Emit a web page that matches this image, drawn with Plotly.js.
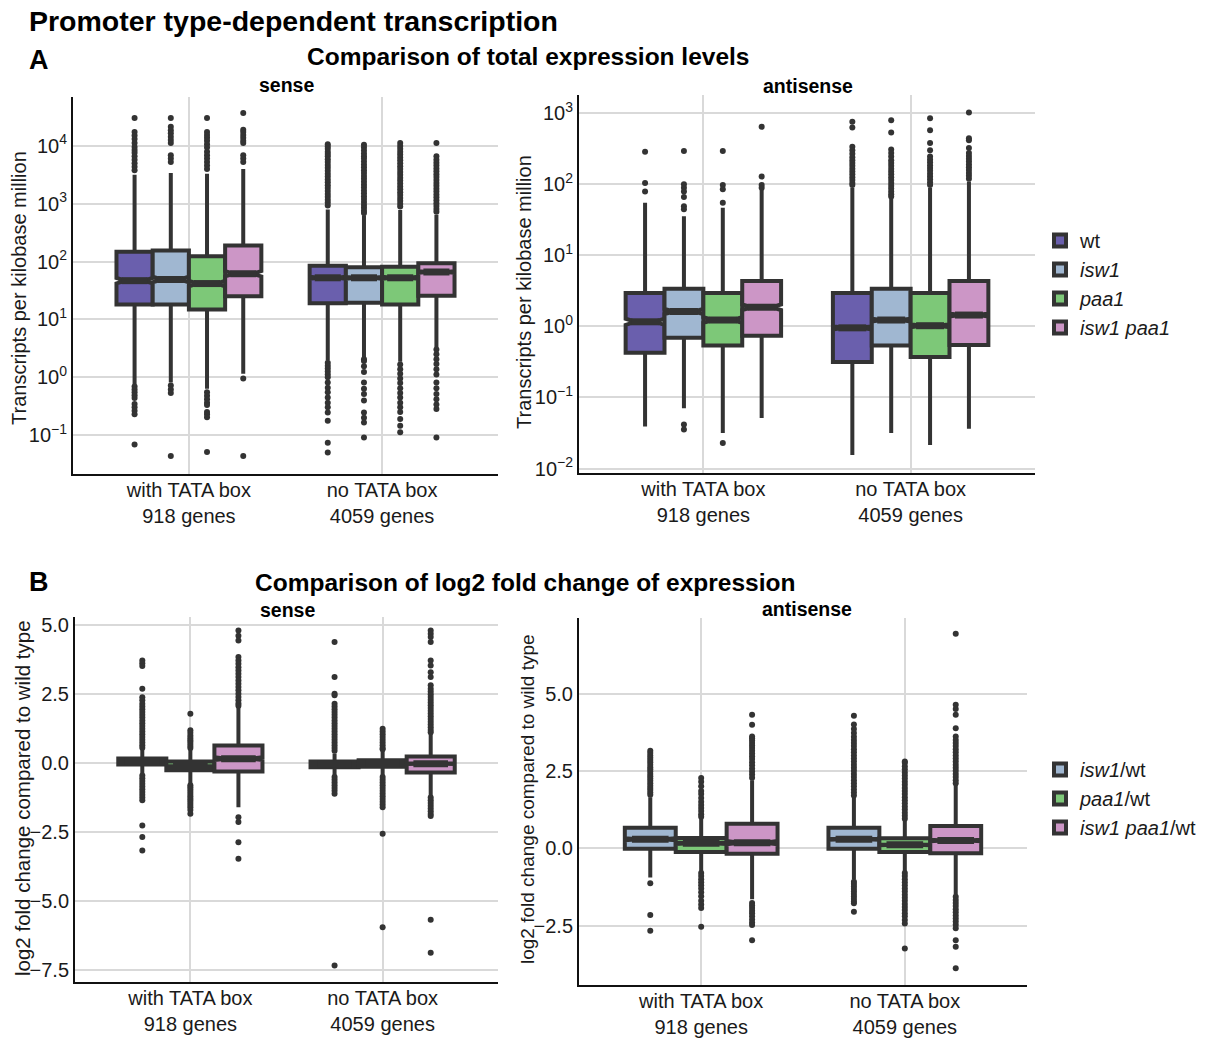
<!DOCTYPE html>
<html><head><meta charset="utf-8">
<script src="https://cdn.plot.ly/plotly-3.0.1.min.js"></script>
<style>html,body{margin:0;padding:0;background:#fff}</style>
</head><body>
<div id="chart" style="width:1217px;height:1038px"></div>
<script>
// ---------------- DATA ----------------
const groupLabels = ['with TATA box<br>918 genes', 'no TATA box<br>4059 genes'];
const geneCounts = [918, 4059];

// Panel A series
const seriesA = ['wt', '<i>isw1</i>', '<i>paa1</i>', '<i>isw1 paa1</i>'];
const colorsA = ['#6a5fad', '#a0b7d1', '#7dc878', '#cc96c6'];
// Panel B series
const seriesB = ['<i>isw1</i>/wt', '<i>paa1</i>/wt', '<i>isw1 paa1</i>/wt'];
const colorsB = ['#a0b7d1', '#7dc878', '#cc96c6'];

// A, sense: log10(TPM). rows = series, cols = [with TATA, no TATA]
const senseQ1 = [[1.26, 1.28], [1.26, 1.29], [1.17, 1.26], [1.40, 1.41]];
const senseMedian = [[1.67, 1.72], [1.69, 1.72], [1.62, 1.72], [1.79, 1.82]];
const senseQ3 = [[2.17, 1.93], [2.19, 1.90], [2.09, 1.91], [2.28, 1.97]];
const senseLowerWhisker = [[-0.12, 0.30], [-0.09, 0.34], [-0.20, 0.27], [0.06, 0.52]];
const senseUpperWhisker = [[3.50, 2.90], [3.53, 2.80], [3.52, 2.89], [3.60, 2.81]];
const senseOutliers = [
  [[4.48, 4.24, 4.18, 4.12, 4.05, 3.98, 3.93, 3.88, 3.82, 3.76, 3.70, 3.64, 3.58, -0.16, -0.21, -0.26, -0.31, -0.36, -0.46, -0.52, -0.58, -0.64, -1.16],
   [4.03, 3.99, 3.95, 3.90, 3.86, 3.82, 3.77, 3.72, 3.67, 3.62, 3.57, 3.52, 3.47, 3.42, 3.37, 3.32, 3.27, 3.22, 3.17, 3.12, 3.07, 3.02, 2.97, 0.25, 0.20, 0.15, 0.10, 0.05, 0.00, -0.09, -0.18, -0.26, -0.35, -0.44, -0.52, -0.61, -0.75, -1.13, -1.30]],
  [[4.48, 4.33, 4.27, 4.22, 4.16, 4.10, 4.05, 3.84, 3.78, 3.72, -0.14, -0.21, -0.27, -1.36],
   [4.02, 3.97, 3.92, 3.87, 3.82, 3.78, 3.73, 3.68, 3.63, 3.58, 3.53, 3.48, 3.43, 3.38, 3.33, 3.28, 3.23, 3.18, 3.13, 3.08, 3.03, 2.98, 2.93, 2.88, 2.84, 0.31, 0.28, 0.19, 0.09, -0.09, -0.20, -0.29, -0.40, -0.61, -0.70, -0.78, -1.04]],
  [[4.48, 4.24, 4.19, 4.14, 4.09, 4.03, 3.97, 3.90, 3.84, 3.78, 3.72, 3.66, 3.60, -0.26, -0.32, -0.38, -0.44, -0.48, -0.60, -0.64, -0.69, -1.29],
   [4.05, 4.00, 3.95, 3.90, 3.85, 3.80, 3.75, 3.70, 3.65, 3.60, 3.55, 3.50, 3.45, 3.40, 3.35, 3.30, 3.25, 3.20, 3.15, 3.10, 3.05, 3.00, 2.95, 0.22, 0.14, 0.06, -0.02, -0.10, -0.19, -0.27, -0.35, -0.44, -0.52, -0.60, -0.72, -0.84, -0.95]],
  [[4.57, 4.28, 4.24, 4.19, 4.14, 4.09, 4.05, 3.84, 3.78, 3.72, -0.02, -1.36],
   [4.05, 3.82, 3.76, 3.71, 3.66, 3.61, 3.56, 3.51, 3.46, 3.41, 3.36, 3.31, 3.26, 3.21, 3.16, 3.11, 3.06, 3.01, 2.96, 2.91, 2.86, 0.48, 0.40, 0.31, 0.23, 0.14, 0.05, -0.09, -0.19, -0.29, -0.38, -0.47, -0.55, -1.04]]
];

// A, antisense: log10(TPM)
const antiQ1 = [[-0.37, -0.50], [-0.16, -0.27], [-0.27, -0.43], [-0.13, -0.26]];
const antiMedian = [[0.065, -0.02], [0.21, 0.09], [0.09, 0.01], [0.27, 0.16]];
const antiQ3 = [[0.47, 0.47], [0.53, 0.53], [0.47, 0.47], [0.64, 0.64]];
const antiLowerWhisker = [[-1.41, -1.81], [-1.15, -1.50], [-1.50, -1.67], [-1.29, -1.44]];
const antiUpperWhisker = [[1.74, 1.95], [1.55, 1.80], [1.67, 1.95], [1.92, 2.04]];
const antiOutliers = [
  [[2.46, 2.02, 1.90], [2.88, 2.80, 2.53, 2.48, 2.43, 2.38, 2.34, 2.30, 2.26, 2.22, 2.18, 2.14, 2.10, 2.06, 2.02, 1.99]],
  [[2.47, 2.00, 1.95, 1.90, 1.82, 1.69, 1.65, -1.38, -1.45], [2.90, 2.73, 2.49, 2.44, 2.39, 2.34, 2.30, 2.26, 2.22, 2.18, 2.14, 2.10, 2.06, 2.02, 1.98, 1.94, 1.90, 1.86, 1.83]],
  [[2.47, 1.99, 1.93, 1.74, -1.64], [2.93, 2.76, 2.58, 2.48, 2.39, 2.35, 2.31, 2.27, 2.23, 2.19, 2.15, 2.11, 2.07, 2.03, 1.99]],
  [[2.81, 2.11, 1.99, 1.95], [3.01, 2.65, 2.62, 2.51, 2.44, 2.40, 2.36, 2.32, 2.28, 2.24, 2.20, 2.16, 2.12, 2.08]]
];

// B, sense: log2 fold change
const fcSenseQ1 = [[-0.05, -0.15], [-0.26, -0.13], [-0.30, -0.34]];
const fcSenseMedian = [[0.06, -0.04], [-0.12, -0.01], [0.16, -0.02]];
const fcSenseQ3 = [[0.17, 0.06], [0.06, 0.10], [0.64, 0.24]];
const fcSenseLowerWhisker = [[-0.38, -0.45], [-0.74, -0.47], [-1.60, -1.20]];
const fcSenseUpperWhisker = [[0.50, 0.35], [0.50, 0.45], [2.05, 1.10]];
const fcSenseOutliers = [
  [[3.72, 3.62, 3.52, 2.70, 2.39, 2.28, 2.15, 2.05, 1.95, 1.85, 1.75, 1.65, 1.55, 1.45, 1.35, 1.25, 1.15, 1.05, 0.95, 0.85, 0.75, 0.65, 0.56, -0.45, -0.55, -0.65, -0.75, -0.85, -0.95, -1.05, -1.15, -1.25, -1.35, -2.26, -2.68, -3.17],
   [4.39, 3.12, 2.52, 2.46, 2.15, 2.05, 1.95, 1.85, 1.75, 1.65, 1.55, 1.45, 1.35, 1.25, 1.15, 1.05, 0.95, 0.85, 0.75, 0.65, 0.55, 0.45, -0.50, -0.60, -0.70, -0.80, -0.90, -1.00, -1.11, -7.34]],
  [[1.79, 1.19, 1.10, 1.00, 0.92, 0.85, 0.78, 0.70, 0.62, 0.55, -0.80, -0.88, -0.96, -1.04, -1.12, -1.20, -1.28, -1.36, -1.44, -1.52, -1.60, -1.70, -1.84],
   [1.25, 1.15, 1.05, 0.95, 0.85, 0.75, 0.65, 0.55, 0.50, -0.50, -0.60, -0.70, -0.80, -0.90, -1.00, -1.10, -1.20, -1.30, -1.40, -1.50, -1.60, -2.56, -5.95]],
  [[4.81, 4.62, 4.45, 3.85, 3.72, 3.60, 3.48, 3.36, 3.24, 3.12, 3.00, 2.88, 2.76, 2.64, 2.52, 2.40, 2.28, 2.16, 2.08, -1.96, -2.14, -2.87, -3.47],
   [4.81, 4.69, 4.57, 4.39, 3.72, 3.54, 3.30, 3.12, 2.82, 2.70, 2.60, 2.50, 2.40, 2.30, 2.20, 2.10, 2.00, 1.90, 1.80, 1.70, 1.60, 1.50, 1.40, 1.30, 1.20, 1.12, -1.25, -1.35, -1.45, -1.55, -1.65, -1.75, -1.85, -1.92, -5.68, -6.88]]
];

// B, antisense: log2 fold change
const fcAntiQ1 = [[-0.02, -0.02], [-0.12, -0.12], [-0.18, -0.16]];
const fcAntiMedian = [[0.29, 0.29], [0.16, 0.11], [0.18, 0.25]];
const fcAntiQ3 = [[0.66, 0.66], [0.33, 0.32], [0.79, 0.72]];
const fcAntiLowerWhisker = [[-0.95, -1.00], [-0.75, -0.75], [-1.65, -1.50]];
const fcAntiUpperWhisker = [[1.65, 1.65], [0.95, 0.90], [2.20, 2.05]];
const fcAntiOutliers = [
  [[3.15, 3.08, 3.00, 2.92, 2.85, 2.78, 2.70, 2.62, 2.55, 2.48, 2.40, 2.33, 2.25, 2.18, 2.10, 2.02, 1.95, 1.88, 1.80, 1.73, -1.13, -2.16, -2.67],
   [4.28, 4.00, 3.85, 3.72, 3.60, 3.50, 3.40, 3.30, 3.20, 3.10, 3.00, 2.90, 2.80, 2.70, 2.60, 2.50, 2.40, 2.30, 2.20, 2.10, 2.00, 1.90, 1.80, 1.70, -1.08, -1.16, -1.24, -1.32, -1.40, -1.48, -1.56, -1.64, -1.72, -1.78, -2.05]],
  [[2.27, 2.15, 2.00, 1.85, 1.75, 1.62, 1.50, 1.40, 1.30, 1.20, 1.10, 1.02, -0.80, -0.90, -1.00, -1.10, -1.20, -1.30, -1.42, -1.55, -1.70, -1.82, -1.93, -2.54],
   [2.80, 2.76, 2.65, 2.55, 2.45, 2.35, 2.25, 2.15, 2.05, 1.95, 1.85, 1.75, 1.65, 1.55, 1.45, 1.35, 1.25, 1.15, 1.05, 0.95, -0.80, -0.90, -1.00, -1.10, -1.20, -1.30, -1.40, -1.50, -1.60, -1.70, -1.80, -1.90, -2.00, -2.10, -2.20, -2.32, -2.43, -3.24]],
  [[4.31, 3.99, 3.61, 3.55, 3.48, 3.40, 3.32, 3.24, 3.15, 3.06, 2.97, 2.88, 2.78, 2.68, 2.58, 2.48, 2.38, 2.28, -1.77, -1.85, -1.93, -2.02, -2.10, -2.20, -2.30, -2.40, -2.48, -2.97],
   [6.93, 4.64, 4.50, 4.31, 3.88, 3.61, 3.50, 3.40, 3.30, 3.20, 3.10, 3.00, 2.90, 2.80, 2.70, 2.60, 2.50, 2.40, 2.30, 2.20, 2.10, -1.57, -1.67, -1.77, -1.87, -1.97, -2.07, -2.17, -2.27, -2.37, -2.47, -2.59, -2.97, -3.18, -3.88]]
];

// Tick labels
const tpmSenseTicks = [-1, 0, 1, 2, 3, 4];
const tpmAntiTicks = [-2, -1, 0, 1, 2, 3];
const fcSenseTicks = [-7.5, -5, -2.5, 0, 2.5, 5];
const fcAntiTicks = [-2.5, 0, 2.5, 5];

// ---------------- LAYOUT HELPERS ----------------
const W = 1217, H = 1038;
const FONT = 'Liberation Sans, Arial, Helvetica, sans-serif';
const DARK = '#333333';
const GRID = '#d9d9d9';
const px = v => v / W;
const py = v => 1 - v / H;

const panels = [
  {xa: 'x', ya: 'y', names: seriesA, colors: colorsA, q1: senseQ1, med: senseMedian, q3: senseQ3, lo: senseLowerWhisker, hi: senseUpperWhisker, out: senseOutliers, legend: 'legend', showlegend: true,
   box: [73, 498, 97, 474], range: [-1.672, 4.845], ticks: tpmSenseTicks, fmt: 'pow'},
  {xa: 'x2', ya: 'y2', names: seriesA, colors: colorsA, q1: antiQ1, med: antiMedian, q3: antiQ3, lo: antiLowerWhisker, hi: antiUpperWhisker, out: antiOutliers, legend: 'legend', showlegend: false,
   box: [579, 1035, 95, 473], range: [-2.063, 3.257], ticks: tpmAntiTicks, fmt: 'pow'},
  {xa: 'x3', ya: 'y3', names: seriesB, colors: colorsB, q1: fcSenseQ1, med: fcSenseMedian, q3: fcSenseQ3, lo: fcSenseLowerWhisker, hi: fcSenseUpperWhisker, out: fcSenseOutliers, legend: 'legend2', showlegend: true,
   box: [75, 498, 617, 982], range: [-7.94, 5.30], ticks: fcSenseTicks, fmt: 'dec'},
  {xa: 'x4', ya: 'y4', names: seriesB, colors: colorsB, q1: fcAntiQ1, med: fcAntiMedian, q3: fcAntiQ3, lo: fcAntiLowerWhisker, hi: fcAntiUpperWhisker, out: fcAntiOutliers, legend: 'legend2', showlegend: false,
   box: [579, 1027, 618, 985], range: [-4.42, 7.44], ticks: fcAntiTicks, fmt: 'dec'}
];

const traces = [];
const layout = {
  width: W, height: H, autosize: false,
  margin: {l: 0, r: 0, t: 0, b: 0},
  paper_bgcolor: '#ffffff', plot_bgcolor: '#ffffff',
  font: {family: FONT, color: '#1a1a1a'},
  showlegend: true,
  boxmode: 'overlay',
  annotations: []
};

function fmtTick(v, fmt) {
  if (fmt === 'pow') return '10<sup>' + (v < 0 ? '\u2212' + Math.abs(v) : v) + '</sup>';
  const s = Math.abs(v).toFixed(1);
  return v < 0 ? '\u2212' + s : s;
}

panels.forEach((p, pi) => {
  const k = p.names.length;
  const bw = 0.75 / k;
  const medX = [], medY = [];
  p.names.forEach((name, s) => {
    const off = (s - (k - 1) / 2) * bw;
    const pos = [1 + off, 2 + off];
    traces.push({
      type: 'box', orientation: 'v', xaxis: p.xa, yaxis: p.ya,
      name: name, legend: p.legend, legendgroup: 'g' + p.legend, showlegend: p.showlegend,
      x: pos, q1: p.q1[s], median: p.med[s], q3: p.q3[s],
      lowerfence: p.lo[s], upperfence: p.hi[s],
      notched: true, notchwidth: 0.25,
      notchspan: p.q1[s].map((v, g) => 1.58 * (p.q3[s][g] - v) / Math.sqrt(geneCounts[g])),
      width: bw, whiskerwidth: 0, boxpoints: false,
      fillcolor: p.colors[s], line: {color: DARK, width: 4},
      hoverinfo: 'skip'
    });
    const ox = [], oy = [];
    p.out[s].forEach((list, g) => list.forEach(v => { ox.push(pos[g]); oy.push(v); }));
    traces.push({
      type: 'scatter', mode: 'markers', xaxis: p.xa, yaxis: p.ya, showlegend: false,
      x: ox, y: oy, marker: {size: 6, color: DARK}, hoverinfo: 'skip'
    });
    pos.forEach((c, g) => {
      medX.push(c - bw * 0.36, c + bw * 0.36, null);
      medY.push(p.med[s][g], p.med[s][g], null);
    });
  });
  traces.push({
    type: 'scatter', mode: 'lines', xaxis: p.xa, yaxis: p.ya, showlegend: false,
    x: medX, y: medY, line: {color: DARK, width: 7}, hoverinfo: 'skip'
  });

  const xKey = pi === 0 ? 'xaxis' : 'xaxis' + (pi + 1);
  const yKey = pi === 0 ? 'yaxis' : 'yaxis' + (pi + 1);
  const [x0, x1, y0, y1] = p.box;
  layout[xKey] = {
    domain: [px(x0), px(x1)], anchor: p.ya, range: [0.4, 2.6],
    tickvals: [1, 2], ticktext: groupLabels,
    showgrid: true, gridcolor: GRID, gridwidth: 2,
    showline: true, linecolor: '#111111', linewidth: 2,
    zeroline: false, ticks: '', ticklabelstandoff: -3,
    tickfont: {size: 20, color: '#1a1a1a', family: FONT}, fixedrange: true
  };
  layout[yKey] = {
    domain: [py(y1), py(y0)], anchor: p.xa, range: p.range,
    tickvals: p.ticks, ticktext: p.ticks.map(v => fmtTick(v, p.fmt)),
    showgrid: true, gridcolor: GRID, gridwidth: 2,
    showline: true, linecolor: '#111111', linewidth: 2,
    zeroline: false, ticks: '',
    tickfont: {size: 20, color: '#1a1a1a', family: FONT}, fixedrange: true
  };
});

layout.legend = {
  x: px(1040), y: py(221), xanchor: 'left', yanchor: 'top',
  font: {size: 20, family: FONT, color: '#1a1a1a'}, tracegroupgap: 0,
  bgcolor: 'rgba(0,0,0,0)', itemwidth: 30
};
layout.legend2 = {
  x: px(1040), y: py(750), xanchor: 'left', yanchor: 'top',
  font: {size: 20, family: FONT, color: '#1a1a1a'}, tracegroupgap: 0,
  bgcolor: 'rgba(0,0,0,0)', itemwidth: 30
};

function ann(text, x, y, opts) {
  layout.annotations.push(Object.assign({
    text: text, xref: 'paper', yref: 'paper', x: px(x), y: py(y),
    xanchor: 'center', yanchor: 'middle', showarrow: false,
    font: {family: FONT, size: 20, color: '#000000'}
  }, opts || {}));
}
ann('<b>Promoter type-dependent transcription</b>', 27, 21, {xanchor: 'left', font: {family: FONT, size: 28.5, color: '#000'}});
ann('<b>A</b>', 27, 60, {xanchor: 'left', font: {family: FONT, size: 27, color: '#000'}});
ann('<b>Comparison of total expression levels</b>', 528, 57, {font: {family: FONT, size: 24.5, color: '#000'}});
ann('<b>sense</b>', 286, 85, {font: {family: FONT, size: 19.5, color: '#000'}});
ann('<b>antisense</b>', 808, 86, {font: {family: FONT, size: 19.5, color: '#000'}});
ann('<b>B</b>', 27, 582, {xanchor: 'left', font: {family: FONT, size: 27, color: '#000'}});
ann('<b>Comparison of log2 fold change of expression</b>', 525, 582, {font: {family: FONT, size: 24.5, color: '#000'}});
ann('<b>sense</b>', 287, 610, {font: {family: FONT, size: 19.5, color: '#000'}});
ann('<b>antisense</b>', 807, 609, {font: {family: FONT, size: 19.5, color: '#000'}});
ann('Transcripts per kilobase million', 19, 288, {textangle: -90, font: {family: FONT, size: 20, color: '#1a1a1a'}});
ann('Transcripts per kilobase million', 524, 292, {textangle: -90, font: {family: FONT, size: 20, color: '#1a1a1a'}});
ann('log2 fold change compared to wild type', 22, 798, {textangle: -90, font: {family: FONT, size: 20.5, color: '#1a1a1a'}});
ann('log2 fold change compared to wild type', 527, 799, {textangle: -90, font: {family: FONT, size: 19, color: '#1a1a1a'}});

Plotly.newPlot('chart', traces, layout, {staticPlot: true, displayModeBar: false});
</script>
</body></html>
